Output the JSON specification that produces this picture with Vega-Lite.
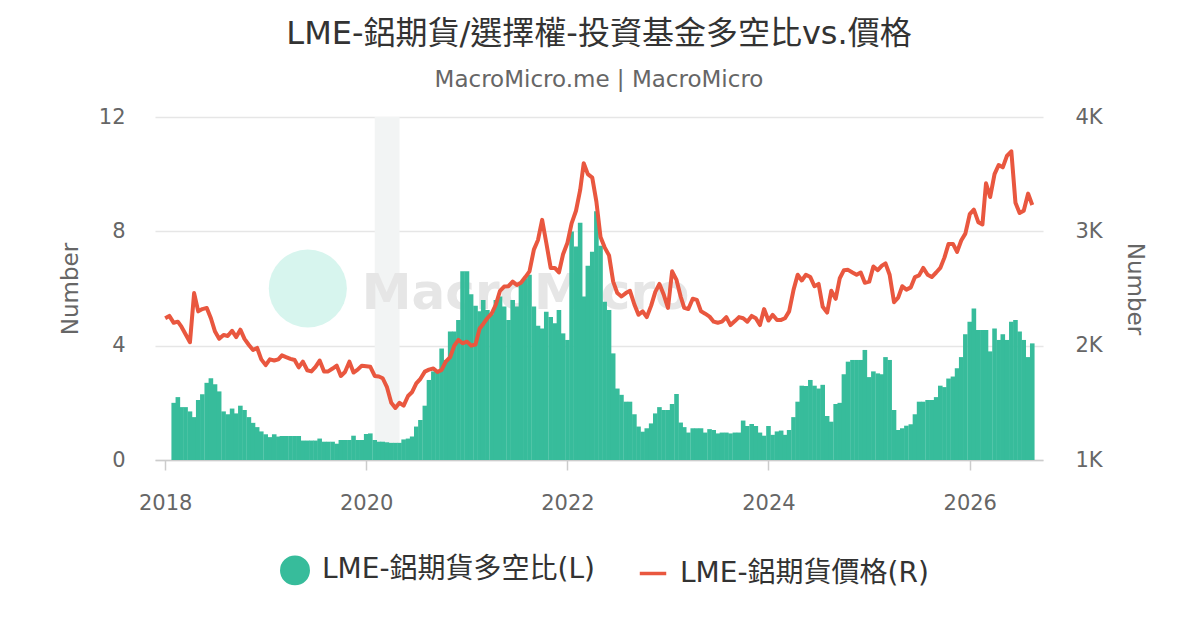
{
  "$schema": "https://vega.github.io/schema/vega-lite/v6.json",
  "width": 888,
  "height": 343,
  "autosize": {"type": "none"},
  "padding": {"left": 155, "top": 117, "right": 157, "bottom": 170},
  "background": "#ffffff",
  "title": {
    "text": "LME-鋁期貨/選擇權-投資基金多空比vs.價格",
    "subtitle": "MacroMicro.me | MacroMicro",
    "anchor": "middle",
    "font": "DejaVu Sans, Noto Sans CJK TC, sans-serif",
    "fontSize": 32,
    "fontWeight": "normal",
    "color": "#333333",
    "subtitleFont": "DejaVu Sans, Noto Sans CJK TC, sans-serif",
    "subtitleFontSize": 23,
    "subtitleColor": "#666666",
    "subtitlePadding": 18,
    "offset": 13
  },
  "datasets": {
    "band": [{"start": "2020-02-01", "end": "2020-05-01"}],
    "cot": [
      {"d": "2018-01-01", "r": null, "p": 2240},
      {"d": "2018-01-16", "r": null, "p": 2260},
      {"d": "2018-02-01", "r": 2.0, "p": 2200},
      {"d": "2018-02-16", "r": 2.2, "p": 2210},
      {"d": "2018-03-01", "r": 1.85, "p": 2166},
      {"d": "2018-03-16", "r": 1.85, "p": 2100},
      {"d": "2018-04-01", "r": 1.7, "p": 2030},
      {"d": "2018-04-16", "r": 1.5, "p": 2460},
      {"d": "2018-05-01", "r": 2.1, "p": 2300},
      {"d": "2018-05-16", "r": 2.3, "p": 2320},
      {"d": "2018-06-01", "r": 2.7, "p": 2330},
      {"d": "2018-06-16", "r": 2.86, "p": 2240},
      {"d": "2018-07-01", "r": 2.65, "p": 2123},
      {"d": "2018-07-16", "r": 2.4, "p": 2060},
      {"d": "2018-08-01", "r": 1.7, "p": 2094},
      {"d": "2018-08-16", "r": 1.6, "p": 2085},
      {"d": "2018-09-01", "r": 1.8, "p": 2130},
      {"d": "2018-09-16", "r": 1.63, "p": 2075},
      {"d": "2018-10-01", "r": 1.9, "p": 2140},
      {"d": "2018-10-16", "r": 1.75, "p": 2060},
      {"d": "2018-11-01", "r": 1.5, "p": 2006},
      {"d": "2018-11-16", "r": 1.3, "p": 1962},
      {"d": "2018-12-01", "r": 1.15, "p": 1980},
      {"d": "2018-12-16", "r": 1.0, "p": 1880},
      {"d": "2019-01-01", "r": 0.9, "p": 1830},
      {"d": "2019-01-16", "r": 0.8, "p": 1880},
      {"d": "2019-02-01", "r": 0.9, "p": 1870},
      {"d": "2019-02-16", "r": 0.82, "p": 1880},
      {"d": "2019-03-01", "r": 0.84, "p": 1915},
      {"d": "2019-03-16", "r": 0.84, "p": 1900},
      {"d": "2019-04-01", "r": 0.84, "p": 1885},
      {"d": "2019-04-16", "r": 0.84, "p": 1875},
      {"d": "2019-05-01", "r": 0.84, "p": 1810},
      {"d": "2019-05-16", "r": 0.68, "p": 1860},
      {"d": "2019-06-01", "r": 0.68, "p": 1785},
      {"d": "2019-06-16", "r": 0.68, "p": 1775},
      {"d": "2019-07-01", "r": 0.68, "p": 1815},
      {"d": "2019-07-16", "r": 0.75, "p": 1870},
      {"d": "2019-08-01", "r": 0.64, "p": 1775},
      {"d": "2019-08-16", "r": 0.64, "p": 1775},
      {"d": "2019-09-01", "r": 0.64, "p": 1800},
      {"d": "2019-09-16", "r": 0.57, "p": 1825},
      {"d": "2019-10-01", "r": 0.7, "p": 1735},
      {"d": "2019-10-16", "r": 0.7, "p": 1770},
      {"d": "2019-11-01", "r": 0.7, "p": 1860},
      {"d": "2019-11-16", "r": 0.85, "p": 1765},
      {"d": "2019-12-01", "r": 0.7, "p": 1790},
      {"d": "2019-12-16", "r": 0.7, "p": 1825},
      {"d": "2020-01-01", "r": 0.91, "p": 1820},
      {"d": "2020-01-16", "r": 0.93, "p": 1815},
      {"d": "2020-02-01", "r": 0.7, "p": 1735},
      {"d": "2020-02-16", "r": 0.64, "p": 1730},
      {"d": "2020-03-01", "r": 0.64, "p": 1715},
      {"d": "2020-03-16", "r": 0.62, "p": 1640},
      {"d": "2020-04-01", "r": 0.6, "p": 1500},
      {"d": "2020-04-16", "r": 0.6, "p": 1455},
      {"d": "2020-05-01", "r": 0.6, "p": 1500},
      {"d": "2020-05-16", "r": 0.72, "p": 1475},
      {"d": "2020-06-01", "r": 0.75, "p": 1560},
      {"d": "2020-06-16", "r": 0.82, "p": 1595},
      {"d": "2020-07-01", "r": 1.17, "p": 1670},
      {"d": "2020-07-16", "r": 1.4, "p": 1710},
      {"d": "2020-08-01", "r": 1.9, "p": 1773},
      {"d": "2020-08-16", "r": 2.8, "p": 1790},
      {"d": "2020-09-01", "r": 3.1, "p": 1800},
      {"d": "2020-09-16", "r": 3.15, "p": 1770},
      {"d": "2020-10-01", "r": 3.9, "p": 1788},
      {"d": "2020-10-16", "r": 3.5, "p": 1860},
      {"d": "2020-11-01", "r": 4.5, "p": 1900},
      {"d": "2020-11-16", "r": 4.5, "p": 2000},
      {"d": "2020-12-01", "r": 4.9, "p": 2050},
      {"d": "2020-12-16", "r": 6.6, "p": 2021},
      {"d": "2021-01-01", "r": 6.6, "p": 2035},
      {"d": "2021-01-16", "r": 5.8, "p": 2000},
      {"d": "2021-02-01", "r": 5.4, "p": 2010},
      {"d": "2021-02-16", "r": 5.2, "p": 2150},
      {"d": "2021-03-01", "r": 5.6, "p": 2190},
      {"d": "2021-03-16", "r": 5.25, "p": 2240},
      {"d": "2021-04-01", "r": 5.1, "p": 2283},
      {"d": "2021-04-16", "r": 5.6, "p": 2360},
      {"d": "2021-05-01", "r": 5.72, "p": 2480},
      {"d": "2021-05-16", "r": 5.37, "p": 2517},
      {"d": "2021-06-01", "r": 4.9, "p": 2520},
      {"d": "2021-06-16", "r": 5.6, "p": 2560},
      {"d": "2021-07-01", "r": 5.37, "p": 2530},
      {"d": "2021-07-16", "r": 6.18, "p": 2550},
      {"d": "2021-08-01", "r": 6.36, "p": 2600},
      {"d": "2021-08-16", "r": 6.48, "p": 2650},
      {"d": "2021-09-01", "r": 5.37, "p": 2840},
      {"d": "2021-09-16", "r": 4.7, "p": 2925},
      {"d": "2021-10-01", "r": 4.6, "p": 3100},
      {"d": "2021-10-16", "r": 5.19, "p": 2900},
      {"d": "2021-11-01", "r": 5.0, "p": 2680},
      {"d": "2021-11-16", "r": 4.78, "p": 2680},
      {"d": "2021-12-01", "r": 5.25, "p": 2640},
      {"d": "2021-12-16", "r": 4.43, "p": 2800},
      {"d": "2022-01-01", "r": 4.2, "p": 2900},
      {"d": "2022-01-16", "r": 7.99, "p": 3070},
      {"d": "2022-02-01", "r": 7.47, "p": 3180},
      {"d": "2022-02-16", "r": 8.3, "p": 3360},
      {"d": "2022-03-01", "r": 5.72, "p": 3596},
      {"d": "2022-03-16", "r": 6.8, "p": 3500},
      {"d": "2022-04-01", "r": 7.29, "p": 3470},
      {"d": "2022-04-16", "r": 8.7, "p": 3260},
      {"d": "2022-05-01", "r": 7.5, "p": 2950},
      {"d": "2022-05-16", "r": 5.54, "p": 2860},
      {"d": "2022-06-01", "r": 5.25, "p": 2790},
      {"d": "2022-06-16", "r": 3.73, "p": 2560},
      {"d": "2022-07-01", "r": 2.5, "p": 2460},
      {"d": "2022-07-16", "r": 2.28, "p": 2430},
      {"d": "2022-08-01", "r": 2.04, "p": 2460},
      {"d": "2022-08-16", "r": 2.04, "p": 2480},
      {"d": "2022-09-01", "r": 1.6, "p": 2360},
      {"d": "2022-09-16", "r": 1.17, "p": 2270},
      {"d": "2022-10-01", "r": 0.99, "p": 2300},
      {"d": "2022-10-16", "r": 1.11, "p": 2250},
      {"d": "2022-11-01", "r": 1.28, "p": 2350},
      {"d": "2022-11-16", "r": 1.63, "p": 2470},
      {"d": "2022-12-01", "r": 1.85, "p": 2540},
      {"d": "2022-12-16", "r": 1.75, "p": 2450},
      {"d": "2023-01-01", "r": 1.75, "p": 2330},
      {"d": "2023-01-16", "r": 1.96, "p": 2650},
      {"d": "2023-02-01", "r": 2.31, "p": 2575},
      {"d": "2023-02-16", "r": 1.31, "p": 2430},
      {"d": "2023-03-01", "r": 1.15, "p": 2330},
      {"d": "2023-03-16", "r": 0.96, "p": 2320},
      {"d": "2023-04-01", "r": 1.11, "p": 2410},
      {"d": "2023-04-16", "r": 1.11, "p": 2400},
      {"d": "2023-05-01", "r": 1.11, "p": 2300},
      {"d": "2023-05-16", "r": 0.96, "p": 2280},
      {"d": "2023-06-01", "r": 1.08, "p": 2254},
      {"d": "2023-06-16", "r": 1.05, "p": 2210},
      {"d": "2023-07-01", "r": 0.93, "p": 2200},
      {"d": "2023-07-16", "r": 0.96, "p": 2210},
      {"d": "2023-08-01", "r": 0.96, "p": 2250},
      {"d": "2023-08-16", "r": 0.93, "p": 2180},
      {"d": "2023-09-01", "r": 0.96, "p": 2215},
      {"d": "2023-09-16", "r": 0.96, "p": 2250},
      {"d": "2023-10-01", "r": 1.38, "p": 2240},
      {"d": "2023-10-16", "r": 1.19, "p": 2210},
      {"d": "2023-11-01", "r": 1.26, "p": 2260},
      {"d": "2023-11-16", "r": 1.19, "p": 2240},
      {"d": "2023-12-01", "r": 0.96, "p": 2180},
      {"d": "2023-12-16", "r": 0.85, "p": 2320},
      {"d": "2024-01-01", "r": 1.19, "p": 2220},
      {"d": "2024-01-16", "r": 0.88, "p": 2270},
      {"d": "2024-02-01", "r": 1.0, "p": 2225},
      {"d": "2024-02-16", "r": 1.03, "p": 2225},
      {"d": "2024-03-01", "r": 0.88, "p": 2240},
      {"d": "2024-03-16", "r": 1.05, "p": 2300},
      {"d": "2024-04-01", "r": 1.5, "p": 2488},
      {"d": "2024-04-16", "r": 2.04, "p": 2620},
      {"d": "2024-05-01", "r": 2.6, "p": 2570},
      {"d": "2024-05-16", "r": 2.59, "p": 2620},
      {"d": "2024-06-01", "r": 2.8, "p": 2600},
      {"d": "2024-06-16", "r": 2.6, "p": 2520},
      {"d": "2024-07-01", "r": 2.5, "p": 2540},
      {"d": "2024-07-16", "r": 2.63, "p": 2340},
      {"d": "2024-08-01", "r": 1.54, "p": 2290},
      {"d": "2024-08-16", "r": 1.34, "p": 2480},
      {"d": "2024-09-01", "r": 1.96, "p": 2410},
      {"d": "2024-09-16", "r": 2.0, "p": 2590},
      {"d": "2024-10-01", "r": 3.0, "p": 2660},
      {"d": "2024-10-16", "r": 3.44, "p": 2663},
      {"d": "2024-11-01", "r": 3.5, "p": 2640},
      {"d": "2024-11-16", "r": 3.5, "p": 2620},
      {"d": "2024-12-01", "r": 3.5, "p": 2640},
      {"d": "2024-12-16", "r": 3.85, "p": 2550},
      {"d": "2025-01-01", "r": 2.9, "p": 2560},
      {"d": "2025-01-16", "r": 3.1, "p": 2692},
      {"d": "2025-02-01", "r": 3.03, "p": 2660},
      {"d": "2025-02-16", "r": 3.0, "p": 2700},
      {"d": "2025-03-01", "r": 3.6, "p": 2720},
      {"d": "2025-03-16", "r": 3.5, "p": 2620},
      {"d": "2025-04-01", "r": 1.75, "p": 2380},
      {"d": "2025-04-16", "r": 1.05, "p": 2420},
      {"d": "2025-05-01", "r": 1.11, "p": 2520},
      {"d": "2025-05-16", "r": 1.2, "p": 2490},
      {"d": "2025-06-01", "r": 1.25, "p": 2510},
      {"d": "2025-06-16", "r": 1.6, "p": 2600},
      {"d": "2025-07-01", "r": 2.04, "p": 2615},
      {"d": "2025-07-16", "r": 2.04, "p": 2680},
      {"d": "2025-08-01", "r": 2.1, "p": 2620},
      {"d": "2025-08-16", "r": 2.1, "p": 2600},
      {"d": "2025-09-01", "r": 2.2, "p": 2640},
      {"d": "2025-09-16", "r": 2.6, "p": 2680},
      {"d": "2025-10-01", "r": 2.55, "p": 2770},
      {"d": "2025-10-16", "r": 2.85, "p": 2890},
      {"d": "2025-11-01", "r": 2.92, "p": 2890},
      {"d": "2025-11-16", "r": 3.21, "p": 2820},
      {"d": "2025-12-01", "r": 3.6, "p": 2920},
      {"d": "2025-12-16", "r": 4.4, "p": 2980},
      {"d": "2026-01-01", "r": 4.84, "p": 3150},
      {"d": "2026-01-16", "r": 5.3, "p": 3190},
      {"d": "2026-02-01", "r": 4.55, "p": 3080},
      {"d": "2026-02-16", "r": 4.55, "p": 3060},
      {"d": "2026-03-01", "r": 4.55, "p": 3420},
      {"d": "2026-03-16", "r": 3.8, "p": 3300},
      {"d": "2026-04-01", "r": 4.6, "p": 3500},
      {"d": "2026-04-16", "r": 4.2, "p": 3580},
      {"d": "2026-05-01", "r": 4.4, "p": 3560},
      {"d": "2026-05-16", "r": 4.2, "p": 3660},
      {"d": "2026-06-01", "r": 4.84, "p": 3700},
      {"d": "2026-06-16", "r": 4.9, "p": 3250},
      {"d": "2026-07-01", "r": 4.5, "p": 3160},
      {"d": "2026-07-16", "r": 4.2, "p": 3180},
      {"d": "2026-08-01", "r": 3.6, "p": 3330},
      {"d": "2026-08-16", "r": 4.08, "p": 3230}
    ]
  },
  "layer": [
    {
      "layer": [
        {
          "data": {"name": "band"},
          "mark": {"type": "rect", "color": "#f2f4f4"},
          "encoding": {
            "x": {
              "field": "start",
              "type": "temporal",
              "scale": {"domain": ["2017-11-25", "2026-09-24"], "padding": 0},
              "axis": {"title": null, "format": "%Y", "values": [{"year": 2018}, {"year": 2020}, {"year": 2022}, {"year": 2024}, {"year": 2026}], "grid": false, "domainColor": "#cccccc", "domainWidth": 1.5, "tickColor": "#cccccc", "tickWidth": 1.5, "tickSize": 10, "labelPadding": 22}
            },
            "x2": {"field": "end"}
          }
        },
        {
          "data": {"values": [{}]},
          "mark": {"type": "point", "shape": "circle", "filled": true, "color": "#d7f5ee", "opacity": 1, "size": 6100},
          "encoding": {
            "x": {
              "datum": {"year": 2019, "month": 6, "date": 3},
              "type": "temporal",
              "scale": {"domain": ["2017-11-25", "2026-09-24"], "padding": 0},
              "axis": {"title": null, "format": "%Y", "values": [{"year": 2018}, {"year": 2020}, {"year": 2022}, {"year": 2024}, {"year": 2026}], "grid": false, "domainColor": "#cccccc", "domainWidth": 1.5, "tickColor": "#cccccc", "tickWidth": 1.5, "tickSize": 10, "labelPadding": 22}
            },
            "y": {
              "datum": 6,
              "type": "quantitative",
              "scale": {"domain": [0, 12]},
              "axis": {"orient": "left", "title": "Number", "values": [0, 4, 8, 12], "grid": true, "gridColor": "#e6e6e6", "gridWidth": 1.5, "domain": false, "ticks": false, "labelPadding": 30, "titlePadding": 16}
            }
          }
        },
        {
          "data": {"values": [{"t": "MacroMicro"}]},
          "mark": {"type": "text", "align": "left", "baseline": "alphabetic", "font": "DejaVu Sans", "fontSize": 50, "fontWeight": "bold", "color": "#e6e6e6"},
          "encoding": {
            "x": {
              "datum": {"year": 2019, "month": 12, "date": 16},
              "type": "temporal",
              "scale": {"domain": ["2017-11-25", "2026-09-24"], "padding": 0},
              "axis": {"title": null, "format": "%Y", "values": [{"year": 2018}, {"year": 2020}, {"year": 2022}, {"year": 2024}, {"year": 2026}], "grid": false, "domainColor": "#cccccc", "domainWidth": 1.5, "tickColor": "#cccccc", "tickWidth": 1.5, "tickSize": 10, "labelPadding": 22}
            },
            "y": {
              "datum": 5.3,
              "type": "quantitative",
              "scale": {"domain": [0, 12]},
              "axis": {"orient": "left", "title": "Number", "values": [0, 4, 8, 12], "grid": true, "gridColor": "#e6e6e6", "gridWidth": 1.5, "domain": false, "ticks": false, "labelPadding": 30, "titlePadding": 16}
            },
            "text": {"field": "t"}
          }
        },
        {
          "data": {"name": "cot"},
          "mark": {"type": "bar", "size": 4.6},
          "encoding": {
            "x": {
              "field": "d",
              "type": "temporal",
              "scale": {"domain": ["2017-11-25", "2026-09-24"], "padding": 0},
              "axis": {"title": null, "format": "%Y", "values": [{"year": 2018}, {"year": 2020}, {"year": 2022}, {"year": 2024}, {"year": 2026}], "grid": false, "domainColor": "#cccccc", "domainWidth": 1.5, "tickColor": "#cccccc", "tickWidth": 1.5, "tickSize": 10, "labelPadding": 22}
            },
            "y": {
              "field": "r",
              "type": "quantitative",
              "scale": {"domain": [0, 12]},
              "axis": {"orient": "left", "title": "Number", "values": [0, 4, 8, 12], "grid": true, "gridColor": "#e6e6e6", "gridWidth": 1.5, "domain": false, "ticks": false, "labelPadding": 30, "titlePadding": 16}
            },
            "color": {
              "datum": "LME-鋁期貨多空比(L)",
              "type": "nominal",
              "scale": {
                "domain": ["LME-鋁期貨多空比(L)", "LME-鋁期貨價格(R)"],
                "range": ["#37bc9b", "#e9573f"]
              },
              "legend": {
                "title": null,
                "orient": "none",
                "legendX": 125,
                "legendY": 438,
                "direction": "horizontal",
                "symbolSize": 700,
                "symbolStrokeWidth": 3.5,
                "labelFont": "DejaVu Sans, Noto Sans CJK TC, sans-serif",
                "labelFontSize": 28,
                "labelColor": "#333333",
                "labelOffset": 12,
                "labelLimit": 0,
                "columnPadding": 36,
                "encode": {
                  "symbols": {
                    "update": {
                      "shape": {"signal": "datum.value == 'LME-鋁期貨多空比(L)' ? 'circle' : 'stroke'"},
                      "fill": {"signal": "datum.value == 'LME-鋁期貨多空比(L)' ? '#37bc9b' : 'transparent'"},
                      "stroke": {"signal": "datum.value == 'LME-鋁期貨多空比(L)' ? 'transparent' : '#e9573f'"},
                      "strokeWidth": {"value": 3.5},
                      "opacity": {"value": 1}
                    }
                  }
                }
              }
            }
          }
        }
      ]
    },
    {
      "data": {"name": "cot"},
      "mark": {"type": "line", "strokeWidth": 4, "strokeJoin": "round"},
      "encoding": {
        "x": {
          "field": "d",
          "type": "temporal",
          "scale": {"domain": ["2017-11-25", "2026-09-24"], "padding": 0},
          "axis": {"title": null, "format": "%Y", "values": [{"year": 2018}, {"year": 2020}, {"year": 2022}, {"year": 2024}, {"year": 2026}], "grid": false, "domainColor": "#cccccc", "domainWidth": 1.5, "tickColor": "#cccccc", "tickWidth": 1.5, "tickSize": 10, "labelPadding": 22}
        },
        "y": {
          "field": "p",
          "type": "quantitative",
          "scale": {"domain": [1000, 4000]},
          "axis": {
            "orient": "right",
            "title": "Number",
            "values": [1000, 2000, 3000, 4000],
            "labelExpr": "datum.value / 1000 + 'K'",
            "grid": false,
            "domain": false,
            "ticks": false,
            "labelPadding": 32,
            "titlePadding": 20
          }
        },
        "color": {"datum": "LME-鋁期貨價格(R)", "type": "nominal"}
      }
    }
  ],
  "resolve": {"scale": {"y": "independent"}},
  "config": {
    "view": {"stroke": null},
    "axis": {
      "labelFont": "DejaVu Sans, Noto Sans CJK TC, sans-serif",
      "titleFont": "DejaVu Sans, Noto Sans CJK TC, sans-serif",
      "labelColor": "#666666",
      "titleColor": "#666666",
      "labelFontSize": 21,
      "titleFontSize": 23,
      "titleFontWeight": "normal"
    }
  }
}
